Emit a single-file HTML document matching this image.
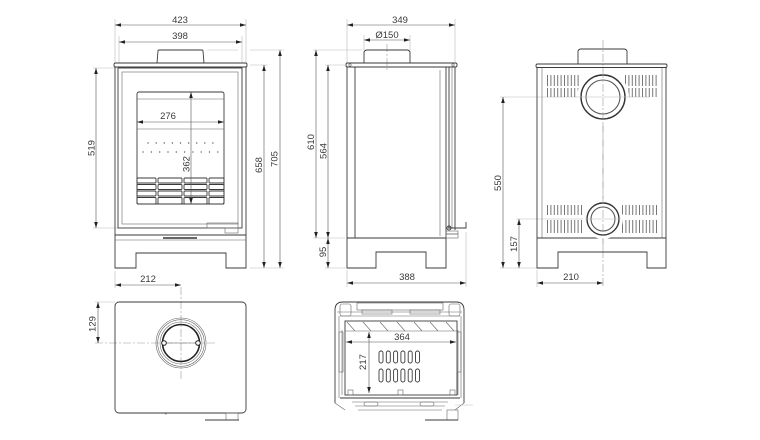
<!DOCTYPE html>
<html><head><meta charset="utf-8"><style>
html,body{margin:0;padding:0;background:#fff;}
svg{display:block;}
text{font-family:"Liberation Sans",sans-serif;font-size:9.5px;fill:#3a3a3a;}
.o{fill:none;stroke:#3a3a3a;stroke-width:0.9;}
.t{fill:none;stroke:#666;stroke-width:0.6;}
.e{fill:none;stroke:#bbb;stroke-width:0.6;}
.d{fill:none;stroke:#555;stroke-width:0.6;}
.c{fill:none;stroke:#999;stroke-width:0.6;stroke-dasharray:8 2 2 2;}
</style></head><body>
<svg width="760" height="440" viewBox="0 0 760 440" xmlns="http://www.w3.org/2000/svg">
<defs>
<marker id="a" viewBox="0 0 10 6" refX="10" refY="3" markerWidth="6" markerHeight="3.6" markerUnits="userSpaceOnUse" orient="auto-start-reverse"><path d="M0,0 L10,3 L0,6 z" fill="#222"/></marker>
</defs>

<!-- ================= FRONT VIEW ================= -->
<line class="e" x1="115" y1="19" x2="115" y2="63"/>
<line class="e" x1="246" y1="19" x2="246" y2="63"/>
<line class="e" x1="119" y1="36" x2="119" y2="63"/>
<line class="e" x1="242" y1="36" x2="242" y2="63"/>
<line class="e" x1="93" y1="68" x2="117" y2="68"/>
<line class="e" x1="93" y1="228" x2="118" y2="228"/>
<line class="e" x1="207" y1="50" x2="238" y2="50"/>
<line class="e" x1="250" y1="50" x2="284" y2="50"/>
<line class="e" x1="250" y1="65" x2="268" y2="65"/>
<line class="e" x1="250" y1="268" x2="284" y2="268"/>
<line class="e" x1="115" y1="271" x2="115" y2="288"/>
<line class="d" x1="115" y1="25" x2="246" y2="25" marker-start="url(#a)" marker-end="url(#a)"/>
<text x="180" y="23" text-anchor="middle">423</text>
<line class="d" x1="119" y1="42" x2="242" y2="42" marker-start="url(#a)" marker-end="url(#a)"/>
<text x="180" y="39" text-anchor="middle">398</text>
<line class="d" x1="96" y1="68" x2="96" y2="228" marker-start="url(#a)" marker-end="url(#a)"/>
<text x="92" y="148" text-anchor="middle" dominant-baseline="central" transform="rotate(-90 92 148)">519</text>
<line class="d" x1="264" y1="65" x2="264" y2="268" marker-start="url(#a)" marker-end="url(#a)"/>
<text x="259.5" y="165" text-anchor="middle" dominant-baseline="central" transform="rotate(-90 259.5 165)">658</text>
<line class="d" x1="280" y1="50" x2="280" y2="268" marker-start="url(#a)" marker-end="url(#a)"/>
<text x="275" y="159" text-anchor="middle" dominant-baseline="central" transform="rotate(-90 275 159)">705</text>
<line class="d" x1="115" y1="285" x2="181" y2="285" marker-start="url(#a)" marker-end="url(#a)"/>
<text x="148" y="282" text-anchor="middle">212</text>
<path class="o" d="M157,63 L158,51 Q158,50 159,50 L202,50 Q203,50 203,51 L204,63"/>
<rect class="o" x="114" y="63" width="133" height="4" rx="1.5"/>
<path class="o" d="M115,67 L115,268 L136,268 L136,253 L226,253 L226,268 L246,268 L246,67"/>
<line class="o" x1="115" y1="235" x2="246" y2="235"/>
<line class="t" x1="115" y1="240" x2="246" y2="240"/>
<line x1="163" y1="238" x2="197" y2="238" stroke="#333" stroke-width="1.4"/>
<rect class="o" x="118" y="68" width="124" height="160"/>
<rect class="t" x="122" y="72" width="116" height="152"/>
<rect class="t" x="207" y="223" width="31" height="5"/>
<rect class="t" x="225" y="228" width="13" height="5"/>
<rect class="o" x="137" y="92" width="87" height="112" rx="2" stroke-width="1.1"/>
<line class="t" x1="137" y1="99" x2="224" y2="99"/>
<line class="t" x1="137" y1="129" x2="224" y2="129"/>
<line x1="147.5" y1="143" x2="215" y2="143" stroke="#555" stroke-width="1.2" stroke-dasharray="1.2 6.9"/>
<line x1="142.5" y1="152" x2="220" y2="152" stroke="#555" stroke-width="1.2" stroke-dasharray="1.2 7.1"/>
<g class="o" stroke-width="0.75">
<rect x="137" y="178" width="19" height="5" rx="1"/><rect x="158" y="178" width="24" height="5" rx="1"/><rect x="184" y="178" width="23" height="5" rx="1"/><rect x="209" y="178" width="15" height="5" rx="1"/>
<rect x="137" y="184.5" width="19" height="5" rx="1"/><rect x="158" y="184.5" width="24" height="5" rx="1"/><rect x="184" y="184.5" width="23" height="5" rx="1"/><rect x="209" y="184.5" width="15" height="5" rx="1"/>
<rect x="137" y="191" width="19" height="5" rx="1"/><rect x="158" y="191" width="24" height="5" rx="1"/><rect x="184" y="191" width="23" height="5" rx="1"/><rect x="209" y="191" width="15" height="5" rx="1"/>
<rect x="137" y="197.5" width="19" height="6.5" rx="1"/><rect x="158" y="197.5" width="24" height="6.5" rx="1"/><rect x="184" y="197.5" width="23" height="6.5" rx="1"/><rect x="209" y="197.5" width="15" height="6.5" rx="1"/>
</g>
<line class="d" x1="137" y1="122" x2="224" y2="122" marker-start="url(#a)" marker-end="url(#a)"/>
<text x="168" y="119" text-anchor="middle">276</text>
<line class="d" x1="191" y1="92" x2="191" y2="204" marker-start="url(#a)" marker-end="url(#a)"/>
<rect x="183" y="155" width="7" height="18" fill="#fff"/>
<text x="187" y="164" text-anchor="middle" dominant-baseline="central" transform="rotate(-90 187 164)">362</text>

<!-- ================= SIDE VIEW ================= -->
<line class="e" x1="347" y1="19" x2="347" y2="63"/>
<line class="e" x1="455" y1="19" x2="455" y2="63"/>
<line class="e" x1="364" y1="35" x2="364" y2="50"/>
<line class="e" x1="410" y1="35" x2="410" y2="50"/>
<line class="e" x1="313" y1="50" x2="362" y2="50"/>
<line class="e" x1="325" y1="65" x2="345" y2="65"/>
<line class="e" x1="313" y1="238" x2="345" y2="238"/>
<line class="e" x1="325" y1="268" x2="346" y2="268"/>
<line class="e" x1="347" y1="270" x2="347" y2="287"/>
<line class="e" x1="466" y1="232" x2="466" y2="287"/>
<line class="c" x1="387" y1="44" x2="387" y2="70"/>
<line class="d" x1="347" y1="25" x2="455" y2="25" marker-start="url(#a)" marker-end="url(#a)"/>
<text x="400" y="23" text-anchor="middle">349</text>
<line class="d" x1="364" y1="40" x2="410" y2="40" marker-start="url(#a)" marker-end="url(#a)"/>
<text x="387" y="38" text-anchor="middle">Ø150</text>
<line class="d" x1="316" y1="50" x2="316" y2="238" marker-start="url(#a)" marker-end="url(#a)"/>
<text x="311.5" y="142" text-anchor="middle" dominant-baseline="central" transform="rotate(-90 311.5 142)">610</text>
<line class="d" x1="328" y1="65" x2="328" y2="238" marker-start="url(#a)" marker-end="url(#a)"/>
<text x="324" y="151" text-anchor="middle" dominant-baseline="central" transform="rotate(-90 324 151)">564</text>
<line class="d" x1="328" y1="238" x2="328" y2="268" marker-start="url(#a)" marker-end="url(#a)"/>
<text x="323.5" y="252" text-anchor="middle" dominant-baseline="central" transform="rotate(-90 323.5 252)">95</text>
<line class="d" x1="347" y1="283" x2="466" y2="283" marker-start="url(#a)" marker-end="url(#a)"/>
<text x="407" y="280" text-anchor="middle">388</text>
<path class="o" d="M364,63 L364,52 Q365,50 367,50 L407,50 Q409,50 410,52 L410,63"/>
<rect class="o" x="346" y="63" width="111" height="4" rx="1.5"/>
<circle class="t" cx="350" cy="65" r="1.2"/>
<circle class="t" cx="453" cy="65" r="1.2"/>
<path class="o" d="M347,67 L347,268 L376,268 L376,252 L426,252 L426,268 L446,268 L446,67"/>
<line class="o" x1="355" y1="67" x2="355" y2="238"/>
<line class="o" x1="347" y1="238" x2="446" y2="238"/>
<line class="o" x1="449" y1="67" x2="449" y2="228"/>
<line class="t" x1="452" y1="67" x2="452" y2="228"/>
<line class="o" x1="455" y1="67" x2="455" y2="230"/>
<line class="t" x1="440" y1="70" x2="440" y2="236"/>
<path class="o" d="M448,228 L466,228 L466,222"/>
<circle class="o" cx="449" cy="228" r="2"/>
<rect class="t" x="446" y="231" width="12" height="3"/>
<rect class="t" x="446" y="234" width="12" height="4"/>

<!-- ================= BACK VIEW ================= -->
<line class="e" x1="500" y1="97" x2="650" y2="97"/>
<line class="e" x1="516" y1="219" x2="622" y2="219"/>
<line class="e" x1="500" y1="268" x2="537" y2="268"/>
<line class="e" x1="537" y1="270" x2="537" y2="287"/>
<line class="c" x1="603" y1="40" x2="603" y2="288"/>
<line class="d" x1="503" y1="97" x2="503" y2="268" marker-start="url(#a)" marker-end="url(#a)"/>
<text x="498.5" y="183" text-anchor="middle" dominant-baseline="central" transform="rotate(-90 498.5 183)">550</text>
<line class="d" x1="519" y1="219" x2="519" y2="268" marker-start="url(#a)" marker-end="url(#a)"/>
<text x="514.5" y="244" text-anchor="middle" dominant-baseline="central" transform="rotate(-90 514.5 244)">157</text>
<line class="d" x1="537" y1="283" x2="603" y2="283" marker-start="url(#a)" marker-end="url(#a)"/>
<text x="571" y="280" text-anchor="middle">210</text>
<path class="o" d="M578,64 L578,51 Q579,49 581,49 L624,49 Q626,49 627,51 L627,64"/>
<rect class="o" x="536" y="64" width="131" height="3.5" rx="1.5"/>
<path class="o" d="M537,67 L537,268 L558,268 L558,252 L647,252 L647,268 L666,268 L666,67"/>
<line class="t" x1="542" y1="67" x2="542" y2="238"/>
<line class="t" x1="662" y1="67" x2="662" y2="238"/>
<line class="o" x1="537" y1="238" x2="666" y2="238"/>
<g stroke="#777" fill="none">
<line x1="547" y1="80.5" x2="580" y2="80.5" stroke-width="11" stroke-dasharray="1 2.4"/>
<line x1="547" y1="92.5" x2="580" y2="92.5" stroke-width="9" stroke-dasharray="1 2.4"/>
<line x1="625" y1="80.5" x2="658" y2="80.5" stroke-width="11" stroke-dasharray="1 2.4"/>
<line x1="625" y1="92.5" x2="658" y2="92.5" stroke-width="9" stroke-dasharray="1 2.4"/>
<line x1="547" y1="210" x2="582" y2="210" stroke-width="10" stroke-dasharray="1 2.4"/>
<line x1="547" y1="226.5" x2="582" y2="226.5" stroke-width="13" stroke-dasharray="1 2.4"/>
<line x1="622" y1="210" x2="657" y2="210" stroke-width="10" stroke-dasharray="1 2.4"/>
<line x1="622" y1="226.5" x2="657" y2="226.5" stroke-width="13" stroke-dasharray="1 2.4"/>
</g>
<circle cx="603" cy="97" r="26" fill="#fff"/>
<circle cx="603" cy="219" r="20" fill="#fff"/>
<circle cx="603" cy="97" r="22" fill="none" stroke="#333" stroke-width="1.4"/>
<circle cx="603" cy="97" r="17" fill="none" stroke="#555" stroke-width="1.1"/>
<circle cx="603" cy="219" r="16" fill="none" stroke="#333" stroke-width="1.4"/>
<circle cx="603" cy="219" r="12" fill="none" stroke="#555" stroke-width="1.1"/>
<line class="c" x1="603" y1="70" x2="603" y2="250"/>
<line class="e" x1="575" y1="97" x2="631" y2="97"/>
<line class="e" x1="585" y1="219" x2="621" y2="219"/>

<!-- ================= TOP VIEW ================= -->
<line class="e" x1="95" y1="302" x2="115" y2="302"/>
<line class="c" x1="95" y1="343" x2="217" y2="343"/>
<line class="c" x1="181" y1="287" x2="181" y2="380"/>
<line class="d" x1="98" y1="302" x2="98" y2="343" marker-start="url(#a)" marker-end="url(#a)"/>
<text x="93" y="324" text-anchor="middle" dominant-baseline="central" transform="rotate(-90 93 324)">129</text>
<rect class="o" x="115" y="302" width="131" height="111" rx="4"/>
<circle class="t" cx="181" cy="343" r="25"/>
<circle class="t" cx="181" cy="343" r="23.3"/>
<circle class="t" cx="181" cy="343" r="21"/>
<circle cx="181" cy="343" r="18.5" fill="none" stroke="#222" stroke-width="1.6"/>
<line class="t" x1="164" y1="343" x2="198" y2="343"/>
<circle cx="164" cy="343" r="2.3" fill="#fff" stroke="#222" stroke-width="1"/>
<circle cx="198" cy="343" r="2.3" fill="#fff" stroke="#222" stroke-width="1"/>
<path class="t" d="M165,413 L165,414 L167,414"/>
<rect class="t" x="226" y="413" width="12" height="7"/>
<line class="o" x1="205" y1="420" x2="239" y2="420"/>

<!-- ================= SECTION VIEW ================= -->
<path class="o" d="M335,403 L335,310 Q335,302 343,302 L456,302 Q464,302 464,310 L464,403"/>
<rect class="t" x="357" y="303" width="86" height="7"/>
<rect class="t" x="340" y="304" width="11" height="12" rx="2"/>
<rect class="t" x="449" y="304" width="11" height="12" rx="2"/>
<line class="t" x1="337" y1="312" x2="462" y2="312"/>
<line class="t" x1="340" y1="316" x2="460" y2="316"/>
<rect class="t" x="362" y="310" width="30" height="4"/>
<rect class="t" x="410" y="310" width="30" height="4"/>
<rect class="o" x="345" y="321" width="112" height="74"/>
<line class="t" x1="345" y1="331" x2="457" y2="331"/>
<g class="t">
<line x1="347" y1="322" x2="355" y2="331"/><line x1="363" y1="322" x2="371" y2="331"/><line x1="380" y1="322" x2="388" y2="331"/><line x1="397" y1="322" x2="405" y2="331"/><line x1="414" y1="322" x2="422" y2="331"/><line x1="430" y1="322" x2="438" y2="331"/><line x1="446" y1="322" x2="454" y2="331"/>
</g>
<line class="t" x1="339" y1="316" x2="339" y2="398"/>
<line class="t" x1="342" y1="330" x2="342" y2="395"/>
<rect class="t" x="339" y="332" width="4" height="40"/>
<line class="t" x1="461" y1="316" x2="461" y2="398"/>
<line class="t" x1="458" y1="330" x2="458" y2="395"/>
<rect class="t" x="457" y="332" width="4" height="40"/>
<rect class="t" x="348" y="390" width="5" height="5"/>
<rect class="t" x="398" y="390" width="5" height="5"/>
<rect class="t" x="450" y="390" width="5" height="5"/>
<line class="o" x1="340" y1="398" x2="460" y2="398"/>
<line class="t" x1="352" y1="402" x2="448" y2="402"/>
<line class="t" x1="355" y1="406" x2="445" y2="406"/>
<line class="t" x1="358" y1="410" x2="442" y2="410"/>
<rect class="t" x="364" y="402" width="14" height="4" rx="2"/>
<rect class="t" x="420" y="402" width="14" height="4" rx="2"/>
<line class="t" x1="335" y1="403" x2="345" y2="410"/>
<line class="t" x1="464" y1="403" x2="455" y2="410"/>
<line class="e" x1="455" y1="405" x2="473" y2="405"/>
<rect class="t" x="447" y="410" width="11" height="10"/>
<line class="o" x1="425" y1="420" x2="458" y2="420"/>
<g class="o" stroke-width="0.8">
<rect x="379" y="351" width="4" height="12" rx="2"/><rect x="386.3" y="351" width="4" height="12" rx="2"/><rect x="393.6" y="351" width="4" height="12" rx="2"/><rect x="400.9" y="351" width="4" height="12" rx="2"/><rect x="408.2" y="351" width="4" height="12" rx="2"/><rect x="415.5" y="351" width="4" height="12" rx="2"/>
<rect x="379" y="369" width="4" height="13" rx="2"/><rect x="386.3" y="369" width="4" height="13" rx="2"/><rect x="393.6" y="369" width="4" height="13" rx="2"/><rect x="400.9" y="369" width="4" height="13" rx="2"/><rect x="408.2" y="369" width="4" height="13" rx="2"/><rect x="415.5" y="369" width="4" height="13" rx="2"/>
</g>
<line class="d" x1="346" y1="342" x2="456" y2="342" marker-start="url(#a)" marker-end="url(#a)"/>
<text x="402" y="340" text-anchor="middle">364</text>
<line class="d" x1="369" y1="332" x2="369" y2="393" marker-start="url(#a)" marker-end="url(#a)"/>
<text x="363.5" y="362" text-anchor="middle" dominant-baseline="central" transform="rotate(-90 363.5 362)">217</text>
</svg>
</body></html>
